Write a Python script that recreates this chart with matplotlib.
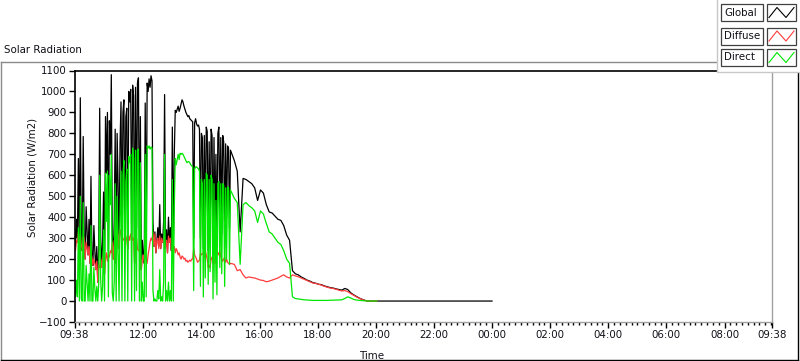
import matplotlib
matplotlib.use("Agg")
import matplotlib.pyplot as plt
import matplotlib.dates as mdates
import pandas as pd

# sampling: every 2 min until 15:00, then every 6 min, then flat to midnight
day_start = "2016-07-01 09:38"
late_start = "2016-07-01 15:08"
data_end = "2016-07-02 00:00"
axis_end = "2016-07-02 09:38"

global_am = [340, 260, 390, 300, 680, 220, 970, 280, 240, 785,
             300, 200, 450, 330, 220, 390, 180, 595, 210, 170,
             360, 240, 150, 260, 90, 250, 920, 310, 160, 280,
             520, 130, 880, 610, 900, 240, 860, 700, 1080, 320,
             200, 380, 820, 180, 800, 560, 250, 750, 950, 280,
             900, 960, 300, 880, 920, 250, 1000, 950, 1010, 320,
             1030, 980, 180, 1020, 350, 1040, 1065, 240, 880, 150,
             290, 220, 180, 945, 220, 1040, 1000, 1060, 1020, 1075,
             1050, 380, 260, 330, 230, 290, 350, 260, 460, 250,
             320, 280, 380, 985, 260, 340, 230, 400, 280, 350,
             240, 830, 260, 700, 910, 900, 915, 930, 905, 920,
             940, 960, 950, 930, 915, 900, 890, 880, 885, 870,
             865, 860, 855, 300, 850, 870, 845, 835, 840, 820,
             300, 800, 780, 250, 790, 350, 830, 810, 240, 760,
             300, 820, 790, 220, 780, 330, 700, 260, 800, 830,
             400, 780, 320, 790, 760, 280, 750, 400, 740, 730,
             350, 720]
diffuse_am = [260, 240, 290, 280, 330, 220, 320, 270, 240, 310,
              300, 200, 280, 250, 220, 260, 180, 230, 210, 170,
              200, 180, 150, 190, 90, 170, 160, 200, 160, 210,
              180, 130, 200, 230, 190, 220, 210, 240, 230, 280,
              200, 290, 260, 180, 300, 320, 250, 340, 330, 280,
              300, 290, 300, 310, 290, 250, 310, 290, 320, 320,
              290, 300, 180, 260, 300, 250, 240, 240, 220, 150,
              200, 220, 180, 230, 200, 180, 220, 250, 280, 300,
              290, 330, 260, 320, 230, 290, 300, 250, 310, 250,
              300, 280, 290, 250, 260, 290, 230, 310, 280, 300,
              240, 240, 260, 260, 230, 250, 240, 220, 230, 210,
              200, 215, 210, 200, 205, 190, 195, 185, 190, 195,
              190, 200, 200, 250, 220, 210, 200, 185, 190, 195,
              230, 220, 225, 230, 210, 240, 220, 200, 160, 170,
              160, 200, 210, 180, 190, 180, 250, 240, 230, 220,
              240, 210, 200, 190, 200, 210, 185, 200, 185, 180,
              175, 180]
direct_am = [80, 20, 100, 20, 350, 0, 500, 10, 0, 470,
             0, 0, 170, 80, 0, 130, 0, 360, 0, 0,
             160, 60, 0, 70, 0, 80, 600, 110, 0, 70,
             340, 0, 610, 380, 620, 20, 600, 460, 700, 40,
             0, 90, 560, 0, 500, 240, 0, 410, 620, 0,
             600, 670, 0, 570, 630, 0, 690, 660, 700, 0,
             730, 680, 0, 720, 50, 720, 725, 0, 660, 0,
             90, 0, 0, 700, 20, 740, 730, 740, 725, 735,
             730, 50, 0, 10, 0, 0, 50, 10, 150, 0,
             20, 0, 90, 700, 0, 50, 0, 90, 0, 50,
             0, 580, 0, 440, 680, 650, 675, 700, 675, 705,
             700, 705, 700, 690, 680, 670, 660, 665, 665, 660,
             650, 645, 640, 50, 630, 640, 640, 635, 630, 620,
             70, 580, 560, 20, 580, 110, 610, 600, 80, 580,
             140, 600, 580, 10, 560, 90, 480, 30, 560, 570,
             160, 560, 130, 560, 550, 70, 540, 200, 545, 540,
             175, 530]

global_pm = [670, 620, 330, 585, 580, 570, 560, 540, 480, 530,
             515, 460, 425, 420, 405, 390, 385, 360, 315, 290,
             145, 130, 125, 115, 108, 100, 95, 88, 85, 80,
             78, 72, 68, 64, 62, 58, 55, 52, 60, 55,
             40, 30, 22, 14, 8, 3, 0, 0, 0, 0]
diffuse_pm = [175, 145, 150, 125, 110, 115, 112, 110, 105, 100,
              98, 92, 95, 100, 105, 110, 118, 125, 115, 110,
              125, 120, 116, 110, 104, 98, 92, 86, 84, 80,
              76, 70, 66, 62, 60, 56, 52, 48, 50, 45,
              36, 28, 20, 13, 7, 2, 0, 0, 0, 0]
direct_pm = [490, 470, 175, 460, 470, 455, 445, 430, 375, 430,
             415, 370, 330, 320, 300, 280, 270, 240, 200, 180,
             20, 12, 10, 8, 6, 5, 4, 3, 3, 3,
             3, 3, 3, 4, 4, 5, 5, 6, 12, 20,
             15, 8, 5, 3, 2, 1, 0, 0, 0, 0]

tick_labels = ["09:38", "12:00", "14:00", "16:00", "18:00", "20:00", "22:00",
               "00:00", "02:00", "04:00", "06:00", "08:00", "09:38"]
tick_times = ["2016-07-01 09:38", "2016-07-01 12:00", "2016-07-01 14:00",
              "2016-07-01 16:00", "2016-07-01 18:00", "2016-07-01 20:00",
              "2016-07-01 22:00", "2016-07-02 00:00", "2016-07-02 02:00",
              "2016-07-02 04:00", "2016-07-02 06:00", "2016-07-02 08:00",
              "2016-07-02 09:38"]


def to_num(ts):
    return mdates.date2num(pd.DatetimeIndex(ts).to_pydatetime())


t_am = pd.date_range(day_start, periods=len(global_am), freq="2min")
t_pm = pd.date_range(late_start, periods=len(global_pm), freq="6min")
x_sun = to_num(list(t_am) + list(t_pm))
x_glob = to_num(list(t_am) + list(t_pm) + [pd.Timestamp(data_end)])

plt.rcParams["font.family"] = "DejaVu Sans"
fs = 7.4
txt = "#101018"

fig = plt.figure(figsize=(8, 3.61), dpi=100)

# background layer in pixel coordinates (frame, caption)
bg = fig.add_axes([0, 0, 1, 1], zorder=0)
bg.set_xlim(0, 800)
bg.set_ylim(361, 0)
bg.axis("off")
bg.plot([0.5, 0.5], [62, 359.5], color="#8a8a8a", lw=1)
bg.plot([0.5, 797.5], [62, 62], color="#8a8a8a", lw=1)
bg.plot([0.5, 797.5], [359.5, 359.5], color="black", lw=1)
bg.plot([797.5, 797.5], [62, 359.5], color="black", lw=1)
bg.text(4, 50, "Solar Radiation", fontsize=fs, color=txt, va="center", ha="left")

ax = fig.add_axes([74.5 / 800, 1 - 322 / 361, 697.5 / 800, 251.5 / 361], zorder=1)
ax.plot(x_glob, global_am + global_pm + [0], color="black", lw=0.9)
ax.plot(x_sun, diffuse_am + diffuse_pm, color="#ff3c3c", lw=0.9)
ax.plot(x_sun, direct_am + direct_pm, color="#00e600", lw=0.9)

ax.set_xlim(to_num([day_start])[0], to_num([axis_end])[0])
ax.set_ylim(-100, 1100)
ax.set_yticks(range(-100, 1101, 100))
ax.set_xticks(to_num(tick_times))
ax.set_xticklabels(tick_labels)
minor = pd.date_range("2016-07-01 09:48", "2016-07-02 09:36", freq="12min")
ax.set_xticks(to_num(minor), minor=True)

ax.tick_params(axis="y", length=4.3, width=1, pad=1.5, labelsize=fs, labelcolor=txt)
ax.tick_params(axis="x", which="major", length=4, width=1, pad=2, labelsize=fs, labelcolor=txt)
ax.tick_params(axis="x", which="minor", length=2.3, width=1)

for side in ["left", "top"]:
    ax.spines[side].set_color("black")
    ax.spines[side].set_linewidth(1.2)
for side in ["right", "bottom"]:
    ax.spines[side].set_color("#a0a0a0")
    ax.spines[side].set_linewidth(1)

ax.set_ylabel("Solar Radiation (W/m2)", fontsize=fs, color=txt)
ax.yaxis.set_label_coords(-0.053, 0.576)
ax.set_xlabel("Time", fontsize=fs, color=txt)
ax.xaxis.set_label_coords(0.4265, -0.115)

# legend panel, drawn on top
fg = fig.add_axes([0, 0, 1, 1], zorder=5)
fg.set_xlim(0, 800)
fg.set_ylim(361, 0)
fg.axis("off")
fg.add_patch(plt.Rectangle((717, -2), 85, 74, facecolor="white", edgecolor="#c8c8c8", lw=1))
legend_names = ["Global", "Diffuse", "Direct"]
legend_colors = ["black", "#ff3c3c", "#00e600"]
legend_rows = [4, 27.5, 49]
for name, col, top in zip(legend_names, legend_colors, legend_rows):
    fg.add_patch(plt.Rectangle((721, top), 42, 17, facecolor="white", edgecolor="#404040", lw=0.9))
    fg.add_patch(plt.Rectangle((767, top), 29, 17, facecolor="white", edgecolor="#404040", lw=0.9))
    fg.text(724, top + 8.5, name, fontsize=fs, color=txt, va="center", ha="left")
    fg.plot([769, 777, 786, 794], [top + 13.5, top + 3.5, top + 13.5, top + 3.5], color=col, lw=0.8)

fig.savefig("out.png", dpi=100)
